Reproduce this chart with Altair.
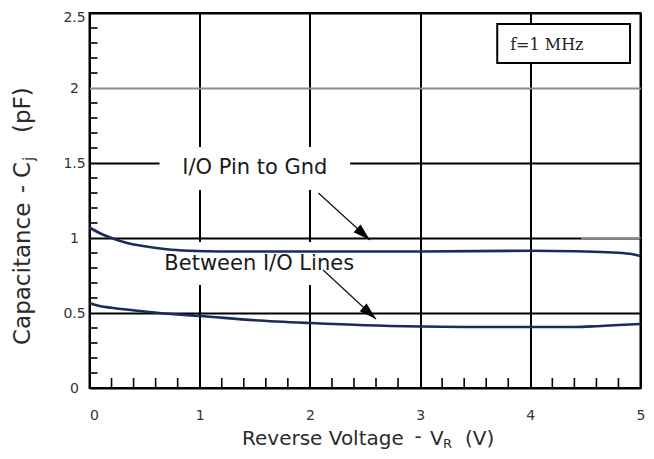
import altair as alt
import pandas as pd

# ---- data ----
vr_pin = [0, 0.1, 0.2, 0.35, 0.5, 0.7, 0.9, 1.2, 2.0, 3.0, 4.0, 4.4, 4.7, 4.9, 5.0]
cj_pin = [1.07, 1.03, 1.0, 0.965, 0.945, 0.925, 0.915, 0.91, 0.91, 0.91, 0.915, 0.912, 0.905, 0.895, 0.88]

vr_lines = [0, 0.1, 0.2, 0.5, 0.8, 1.0, 1.5, 2.0, 2.5, 3.0, 3.5, 4.0, 4.4, 4.6, 4.8, 5.0]
cj_lines = [0.567, 0.545, 0.535, 0.51, 0.49, 0.48, 0.452, 0.433, 0.418, 0.41, 0.407, 0.407, 0.407, 0.412, 0.42, 0.427]

x_ticks = [0, 1, 2, 3, 4, 5]
y_ticks = [0, 0.5, 1, 1.5, 2, 2.5]
x_minor = [0.2, 0.4, 0.6, 0.8, 1.2, 1.4, 1.6, 1.8, 2.2, 2.4, 2.6, 2.8,
           3.2, 3.4, 3.6, 3.8, 4.2, 4.4, 4.6, 4.8]
y_minor = [0.1, 0.2, 0.3, 0.4, 0.6, 0.7, 0.8, 0.9, 1.1, 1.2, 1.3, 1.4,
           1.6, 1.7, 1.8, 1.9, 2.1, 2.2, 2.3, 2.4]

label_names = ["I/O Pin to Gnd", "Between I/O Lines"]
label_x = [1.5, 1.54]
label_y = [1.47, 0.827]
# white boxes behind the labels (data coordinates)
box_x = [0.635, 0.59]
box_x2 = [2.365, 2.49]
box_y = [1.32, 0.687]
box_y2 = [1.607, 0.973]
# arrows: start -> tip
arrow_x = [2.077, 2.12]
arrow_y = [1.30, 0.787]
arrow_x2 = [2.545, 2.6]
arrow_y2 = [0.987, 0.46]

freq_text = "f=1 MHz"
freq_box = {"x": [3.70], "x2": [4.905], "y": [2.167], "y2": [2.427]}
freq_pos = {"x": [4.15], "y": [2.287]}

gray_seg = {"x": [4.46], "x2": [5.0], "y": [1.0]}

# ---- scales / axes ----
xs = alt.Scale(domain=[0, 5], nice=False, zero=False)
ys = alt.Scale(domain=[0, 2.5], nice=False, zero=False)

x_axis = alt.Axis(values=x_ticks, title=None, grid=True, ticks=False, domain=False,
                  labelFlush=False, labelPadding=20, format="~g",
                  labelAlign={"condition": {"test": "datum.value == 0", "value": "left"},
                              "value": "center"})
y_axis = alt.Axis(values=y_ticks, title=None, grid=True, ticks=False, domain=False,
                  labelAlign="center", labelBaseline="middle", labelPadding=15.5, format="~g",
                  labelOffset={"condition": {"test": "datum.value == 2.5", "value": 4},
                               "value": 0},
                  gridColor={"condition": {"test": "datum.value == 2", "value": "#8c8c8c"},
                             "value": "#000000"})


def X(f):
    return alt.X(f"{f}:Q", scale=xs, axis=x_axis)


def Y(f):
    return alt.Y(f"{f}:Q", scale=ys, axis=y_axis)


curves = pd.DataFrame({
    "x": vr_pin + vr_lines,
    "y": cj_pin + cj_lines,
    "s": ["pin"] * len(vr_pin) + ["lines"] * len(vr_lines),
})
boxes = pd.DataFrame({"x": box_x, "x2": box_x2, "y": box_y, "y2": box_y2})
labels = pd.DataFrame({"x": label_x, "y": label_y, "t": label_names})
arrows = pd.DataFrame({"x": arrow_x, "y": arrow_y, "x2": arrow_x2, "y2": arrow_y2})
heads = pd.DataFrame({"x": arrow_x2, "y": arrow_y2})
xminor = pd.DataFrame({"x": x_minor})
yminor = pd.DataFrame({"y": y_minor})

white_boxes = alt.Chart(boxes).mark_rect(fill="white", stroke=None).encode(
    x=X("x"), x2="x2:Q", y=Y("y"), y2="y2:Q")

gray_rule = alt.Chart(pd.DataFrame(gray_seg)).mark_rule(color="#8c8c8c", strokeWidth=2).encode(
    x=X("x"), x2="x2:Q", y=Y("y"))

xtick_marks = alt.Chart(xminor).mark_rule(color="black", strokeWidth=1.6).encode(
    x=X("x"), y=alt.value(375), y2=alt.value(365))
ytick_marks = alt.Chart(yminor).mark_rule(color="black", strokeWidth=1.6).encode(
    y=Y("y"), x=alt.value(0), x2=alt.value(8))

lines = alt.Chart(curves).mark_line(color="#1c2b5c", strokeWidth=2.6, interpolate="monotone").encode(
    x=X("x"), y=Y("y"), detail="s:N")

arrow_lines = alt.Chart(arrows).mark_rule(color="#111111", strokeWidth=1.2).encode(
    x=X("x"), y=Y("y"), x2="x2:Q", y2="y2:Q")
arrow_heads = alt.Chart(heads).mark_point(
    shape="M0,0L0.6,2L-0.6,2Z", filled=True, color="black", opacity=1, size=300, angle=132
).encode(x=X("x"), y=Y("y"))

label_text = alt.Chart(labels).mark_text(
    font="DejaVu Sans", fontSize=21, color="#1a1a1a", align="center", baseline="middle"
).encode(x=X("x"), y=Y("y"), text="t:N")

freq_rect = alt.Chart(pd.DataFrame(freq_box)).mark_rect(
    fill="white", stroke="black", strokeWidth=2).encode(
    x=X("x"), x2="x2:Q", y=Y("y"), y2="y2:Q")
freq_label = alt.Chart(pd.DataFrame(freq_pos)).mark_text(
    font="DejaVu Serif", fontSize=16, color="#222222", align="center", baseline="middle",
    text=freq_text).encode(x=X("x"), y=Y("y"))


def piece(txt, px, py, size=20, align="left", angle=0, baseline="alphabetic"):
    return alt.Chart(pd.DataFrame({"a": [0]})).mark_text(
        text=txt, font="DejaVu Sans", fontSize=size, color="#2b2b2b",
        align=align, baseline=baseline, angle=angle
    ).encode(x=alt.value(px), y=alt.value(py))


x_title = [
    piece("Reverse Voltage", 152.5, 432),
    piece("-", 328.5, 430, align="center"),
    piece("V", 340.5, 432),
    piece("R", 353.5, 434.5, size=13),
    piece("(V)", 375.5, 432, size=20),
]
y_title = [
    piece("Capacitance", -59.5, 332, size=23, angle=270),
    piece("-", -60.5, 176, size=23, angle=270, align="center"),
    piece("C", -59.5, 165, size=23, angle=270),
    piece("j", -55.5, 148, size=15, angle=270),
    piece("(pF)", -59.5, 120, size=23, angle=270),
]

chart = alt.layer(
    white_boxes, gray_rule, xtick_marks, ytick_marks, lines,
    arrow_lines, arrow_heads, label_text, freq_rect, freq_label,
    *x_title, *y_title
).properties(
    width=551, height=375,
    autosize=alt.AutoSizeParams(type="none"),
    padding={"left": 81.5, "top": 5, "right": 5.5, "bottom": 62},
).configure_view(
    stroke="black", strokeWidth=2
).configure_axis(
    gridColor="black", gridWidth=2, gridOpacity=1,
    labelFont="DejaVu Sans", labelFontSize=14, labelColor="#333333"
)

chart.save("out.html", embed_options={"renderer": "svg", "actions": False})
